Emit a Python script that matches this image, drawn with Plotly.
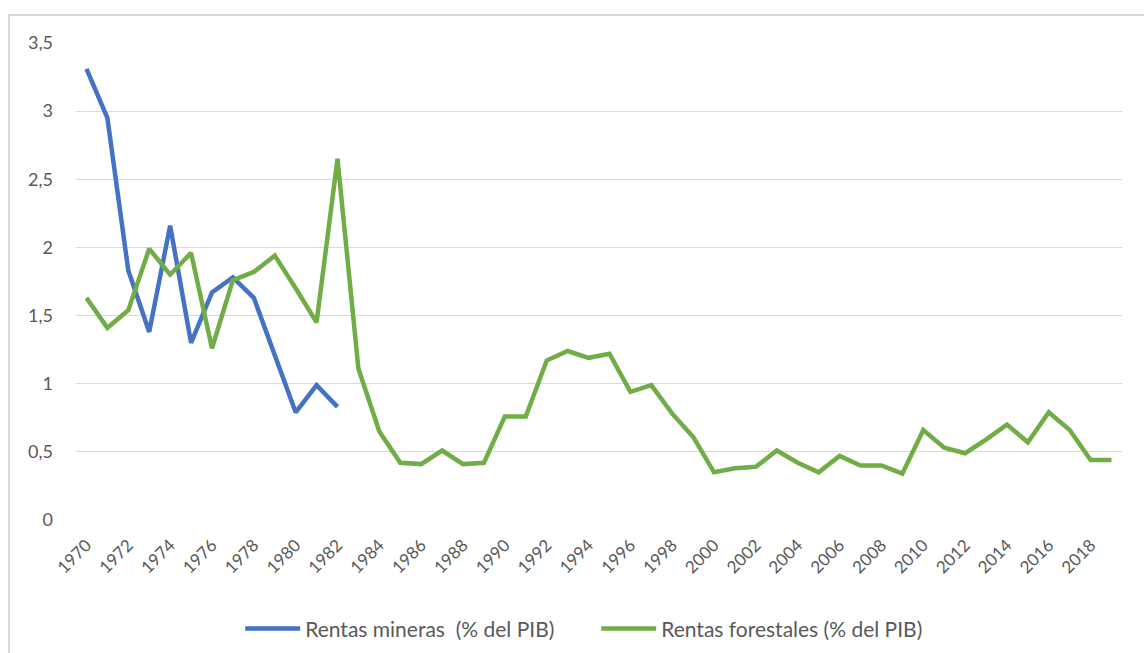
import plotly.graph_objects as go

# Annual series, 1970-2019
years = list(range(1970, 2020))

mineras_years = list(range(1970, 1983))
rentas_mineras = [3.31, 2.95, 1.83, 1.38, 2.16, 1.30, 1.67, 1.78, 1.63, 1.22, 0.79, 0.99, 0.83]

rentas_forestales = [
    1.63, 1.41, 1.54, 1.99, 1.80, 1.96, 1.26, 1.76, 1.82, 1.94,
    1.70, 1.45, 2.65, 1.11, 0.65, 0.42, 0.41, 0.51, 0.41, 0.42,
    0.76, 0.76, 1.17, 1.24, 1.19, 1.22, 0.94, 0.99, 0.78, 0.61,
    0.35, 0.38, 0.39, 0.51, 0.42, 0.35, 0.47, 0.40, 0.40, 0.34,
    0.66, 0.53, 0.49, 0.59, 0.70, 0.57, 0.79, 0.66, 0.44, 0.44,
]

tick_years = list(range(1970, 2019, 2))
y_ticks = [0, 0.5, 1, 1.5, 2, 2.5, 3, 3.5]

FONT = "Lato, 'Open Sans', sans-serif"
GREY = "#595959"

fig = go.Figure()
fig.add_trace(go.Scatter(
    x=mineras_years, y=rentas_mineras, mode="lines",
    name="Rentas mineras  (% del PIB)",
    line=dict(color="#4472C4", width=4.5),
))
fig.add_trace(go.Scatter(
    x=years, y=rentas_forestales, mode="lines",
    name="Rentas forestales (% del PIB)",
    line=dict(color="#70AD47", width=4.5),
))

fig.update_layout(
    width=1144, height=653,
    margin=dict(l=76, r=22, t=43, b=133, autoexpand=False),
    paper_bgcolor="white", plot_bgcolor="white",
    separators=",.",
    font=dict(family=FONT, color=GREY, size=18),
    showlegend=True,
    legend=dict(
        orientation="h", x=0.157, xanchor="left", y=-0.185, yanchor="top",
        font=dict(family=FONT, color=GREY, size=21),
        itemwidth=55, entrywidth=286, entrywidthmode="pixels",
        traceorder="normal",
    ),
    xaxis=dict(
        range=[1969.5, 2019.5], automargin=False,
        tickmode="array", tickvals=tick_years, ticktext=[str(t) for t in tick_years],
        tickangle=-45, showgrid=False, zeroline=False, showline=False,
        ticks="", ticklabelstandoff=11, tickfont=dict(size=17, color=GREY),
    ),
    yaxis=dict(
        range=[0, 3.5], automargin=False,
        tickmode="array", tickvals=y_ticks,
        showgrid=True, gridcolor="#d9d9d9", gridwidth=1.3,
        zeroline=False, showline=False, ticks="",
        ticklabelstandoff=22, tickfont=dict(size=18, color=GREY),
    ),
    shapes=[dict(
        type="rect", xref="paper", yref="paper",
        x0=-0.064, x1=1.2, y0=-0.5, y1=1.0587,
        line=dict(color="#d9d9d9", width=2), fillcolor="rgba(0,0,0,0)",
        layer="below",
    )],
)

fig.write_html("out.html")
